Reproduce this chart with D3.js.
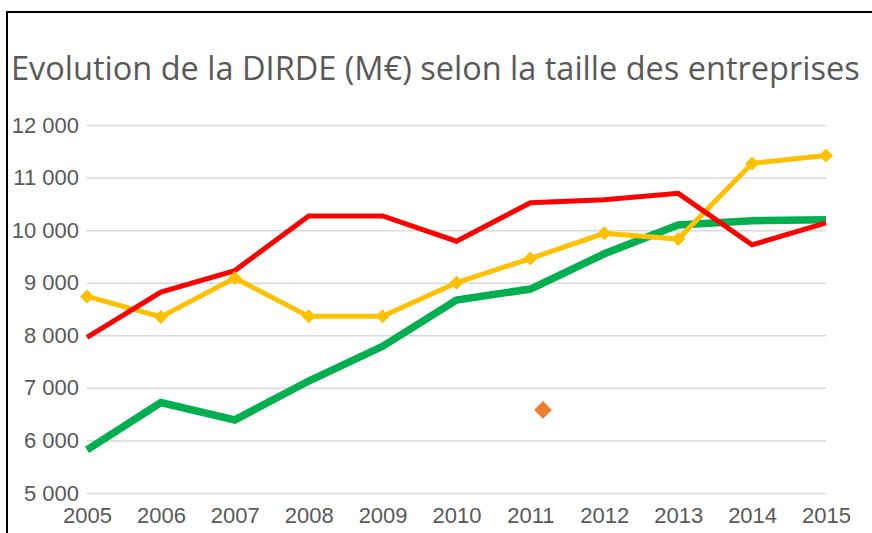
<!DOCTYPE html>
<html>
<head>
<meta charset="utf-8">
<script src="https://cdn.jsdelivr.net/npm/d3@7"></script>
<style>
  body { margin: 0; background: #fff; }
  svg { display: block; font-family: "Open Sans", sans-serif; }
  .tick text { fill: #595959; font-size: 22px; }
</style>
</head>
<body>
<svg id="chart"></svg>
<script>
const w = 872;
const h = 533;
const title = "Evolution de la DIRDE (M€) selon la taille des entreprises";
const years = [2005, 2006, 2007, 2008, 2009, 2010, 2011, 2012, 2013, 2014, 2015];
const yTicks = [5000, 6000, 7000, 8000, 9000, 10000, 11000, 12000];
const redVals = [7960, 8820, 9230, 10270, 10270, 9790, 10520, 10580, 10700, 9720, 10140];
const yellowVals = [8740, 8350, 9090, 8360, 8360, 9000, 9460, 9940, 9830, 11270, 11420];
const greenVals = [5820, 6720, 6390, 7130, 7790, 8670, 8880, 9550, 10100, 10180, 10200];
// single lonely point (orange)
const orangePt = [{ year: 2011.17, value: 6580 }];

const margin = { left: 87, right: 46, top: 125, bottom: 40 };

const svg = d3.select("#chart").attr("width", w).attr("height", h);

const x = d3.scaleLinear().domain([2005, 2015]).range([margin.left, w - margin.right]);
const y = d3.scaleLinear().domain([5000, 12000]).range([h - margin.bottom, margin.top]);

const loc = d3.formatLocale({ decimal: ",", thousands: " ", grouping: [3], currency: ["", " €"] });
const fmt = loc.format(",d");

// frame (left + top)
svg.append("path")
  .attr("d", `M7,${h} L7,12 L${w},12`)
  .attr("fill", "none").attr("stroke", "#000").attr("stroke-width", 2);

// title
svg.append("text")
  .attr("x", 11).attr("y", 80)
  .attr("fill", "#595959")
  .style("font-size", "32.5px")
  .text(title);

// y axis + gridlines
const yAxis = d3.axisLeft(y).tickValues(yTicks).tickFormat(fmt)
  .tickSize(-(w - margin.left - margin.right)).tickPadding(8);
const gy = svg.append("g").attr("transform", `translate(${margin.left},0)`).call(yAxis);
gy.select(".domain").remove();
gy.selectAll(".tick line").attr("stroke", "#D9D9D9").attr("stroke-width", 1.5);

// x axis
const xAxis = d3.axisBottom(x).tickValues(years).tickFormat(d3.format("d")).tickSize(0).tickPadding(14);
const gx = svg.append("g").attr("transform", `translate(0,${h - margin.bottom})`).call(xAxis);
gx.select(".domain").remove();

const line = d3.line().x((d, i) => x(years[i])).y(d => y(d));

const series = [
  { vals: greenVals, col: "#00B050", sw: 7.5 },
  { vals: yellowVals, col: "#FFC000", sw: 5 },
  { vals: redVals, col: "#FF0000", sw: 5 }
];

series.forEach(s => {
  svg.append("path").datum(s.vals)
    .attr("d", line)
    .attr("fill", "none")
    .attr("stroke", s.col)
    .attr("stroke-width", s.sw)
    .attr("stroke-linejoin", "miter");
});

// yellow markers
const diamond = d3.symbol().type(d3.symbolDiamond2);
svg.selectAll(".ymark").data(yellowVals).enter().append("path")
  .attr("class", "ymark")
  .attr("d", diamond.size(125)())
  .attr("transform", (d, i) => `translate(${x(years[i])},${y(d)})`)
  .attr("fill", "#FFC000");

svg.selectAll(".omark").data(orangePt).enter().append("path")
  .attr("class", "omark")
  .attr("d", diamond.size(200)())
  .attr("transform", d => `translate(${x(d.year)},${y(d.value)})`)
  .attr("fill", "#ED7D31");
</script>
</body>
</html>
